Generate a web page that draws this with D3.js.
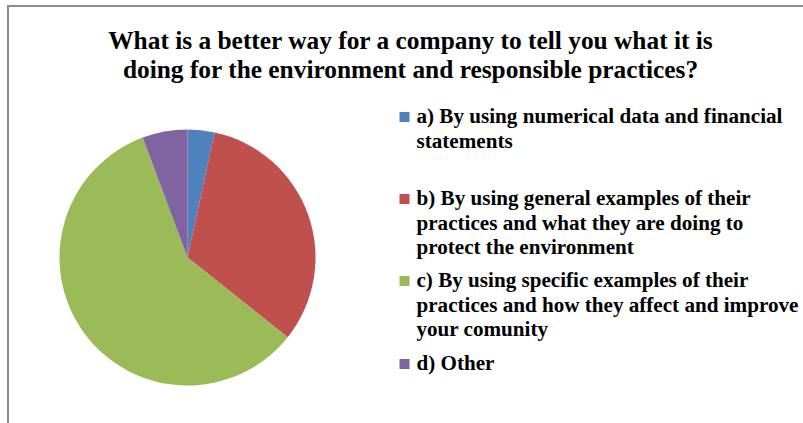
<!DOCTYPE html>
<html>
<head>
<meta charset="utf-8">
<script src="https://cdn.jsdelivr.net/npm/d3@7"></script>
<style>
  body { margin: 0; background: #fff; }
  svg { display: block; }
</style>
</head>
<body>
<svg id="chart" width="803" height="423"></svg>
<script>
// data (percent of answers)
var categories = ["a", "b", "c", "d"];
var values = [3.4, 32.3, 58.6, 5.7];
var colors = ["#4F81BD", "#C0504D", "#9BBB59", "#8064A2"];
var legendLines = [
  ["a) By using numerical data and financial", "statements"],
  ["b) By using general examples of their", "practices and what they are doing to", "protect the environment"],
  ["c) By using specific examples of their", "practices and how they affect and improve", "your comunity"],
  ["d) Other"]
];
var titleLines = [
  "What is a better way for a company to tell you what it is",
  "doing for the environment and responsible practices?"
];

var svg = d3.select("#chart");
var width = +svg.attr("width"), height = +svg.attr("height");

// chart frame (cut off on right and bottom)
svg.append("path")
  .attr("d", "M8," + (height + 2) + "V6H" + (width + 2))
  .attr("fill", "none")
  .attr("stroke", "#8c8c8c")
  .attr("stroke-width", 2);

// title
var titleFont = "'Liberation Serif', serif";
var title = svg.append("g").attr("class", "title");
title.selectAll("text")
  .data(titleLines)
  .enter().append("text")
  .attr("x", 410.5)
  .attr("y", function(d, i) { return 49 + i * 28.5; })
  .attr("text-anchor", "middle")
  .attr("font-family", titleFont)
  .attr("font-weight", "bold")
  .attr("font-size", 20)
  .attr("fill", "#000")
  .text(function(d) { return d; });
// fit first title line to ~605px wide
var t0 = title.select("text").node().getComputedTextLength();
title.selectAll("text").attr("font-size", 20 * 605 / t0);

// pie
var cx = 187.5, cy = 257.5, r = 128;
var pie = d3.pie().sort(null).value(function(d) { return d; });
var arc = d3.arc().innerRadius(0).outerRadius(r);

svg.append("g")
  .attr("transform", "translate(" + cx + "," + cy + ")")
  .selectAll("path")
  .data(pie(values))
  .enter().append("path")
  .attr("d", arc)
  .attr("fill", function(d, i) { return colors[i]; });

// legend
var legendTop = [123, 205, 287, 370];
var lineH = 24.5;
var legend = svg.append("g").attr("class", "legend");
var items = legend.selectAll("g")
  .data(categories)
  .enter().append("g")
  .attr("transform", function(d, i) { return "translate(0," + legendTop[i] + ")"; });

items.append("rect")
  .attr("x", 399.5)
  .attr("y", -11)
  .attr("width", 10)
  .attr("height", 10)
  .attr("fill", function(d, i) { return colors[i]; });

items.each(function(d, i) {
  d3.select(this).selectAll("text")
    .data(legendLines[i])
    .enter().append("text")
    .attr("x", 416.5)
    .attr("y", function(s, j) { return j * lineH; })
    .attr("font-family", "'Liberation Serif', serif")
    .attr("font-weight", "bold")
    .attr("font-size", 16)
    .attr("fill", "#000")
    .text(function(s) { return s; });
});
// fit the first legend line to ~366px
var l0 = legend.select("text").node().getComputedTextLength();
legend.selectAll("text").attr("font-size", 16 * 366 / l0);
</script>
</body>
</html>
